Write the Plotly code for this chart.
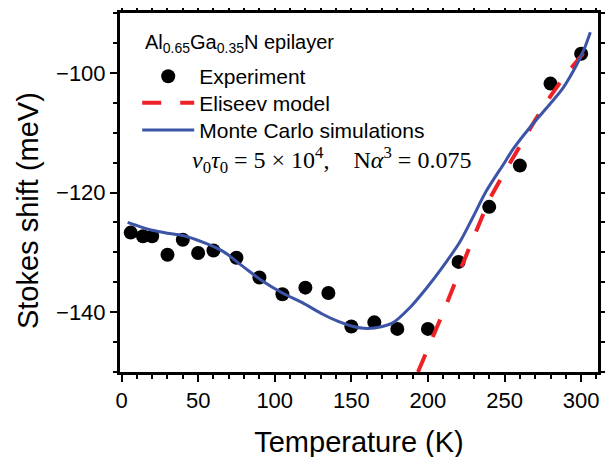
import plotly.graph_objects as go

# Experimental Stokes shift (meV) vs temperature (K)
temp_exp = [6, 14, 20, 30, 40, 50, 60, 75, 90, 105, 120, 135, 150, 165, 180, 200, 220, 240, 260, 280, 300]
shift_exp = [-126.7, -127.3, -127.3, -130.4, -127.9, -130.1, -129.7, -130.9, -134.2, -137.0, -135.9, -136.8,
             -142.4, -141.7, -142.8, -142.8, -131.6, -122.4, -115.5, -101.8, -96.8]

# Eliseev model
temp_eli = [193.5, 200, 210, 220, 230, 240, 250, 260, 270, 280, 290, 300, 306]
shift_eli = [-150.0, -146.2, -140.0, -133.6, -127.3, -121.2, -116.6, -112.1, -107.9, -103.9, -100.3, -97.2, -95.0]

# Monte Carlo simulations
temp_mc = [4, 12, 20, 30, 40, 53, 66, 79, 92, 105, 118, 131, 141, 150, 158, 166, 177, 188, 199, 210, 221,
           229, 238, 249, 256, 266, 277, 288, 297, 302, 306]
shift_mc = [-125.0, -125.7, -126.3, -126.8, -127.2, -128.3, -129.8, -132.3, -134.8, -136.8, -138.4, -140.3,
            -141.5, -142.3, -142.7, -142.6, -141.8, -139.3, -136.0, -132.3, -128.2, -124.3, -119.8, -115.4,
            -112.6, -109.3, -106.0, -102.6, -98.7, -96.0, -93.2]

x_range = [-1, 311]
y_range = [-150, -90]
x_ticks = [0, 50, 100, 150, 200, 250, 300]
y_ticks = [-140, -120, -100]
y_ticktext = ["\u2212140", "\u2212120", "\u2212100"]

FONT = "Liberation Sans, Arial, sans-serif"
SERIF = "Liberation Serif, Times New Roman, serif"

fig = go.Figure()
fig.add_trace(go.Scatter(x=temp_exp, y=shift_exp, mode="markers", name="Experiment", legend="legend",
                         marker=dict(color="black", size=14)))
fig.add_trace(go.Scatter(x=temp_eli, y=shift_eli, mode="lines", name="Eliseev model", legend="legend2",
                         line=dict(color="#ee2226", width=4, dash="19px,19px")))
fig.add_trace(go.Scatter(x=temp_mc, y=shift_mc, mode="lines", name="Monte Carlo simulations", legend="legend3",
                         line=dict(color="#3b54a6", width=3, shape="spline", smoothing=0.8)))

main_axis = dict(showline=True, linecolor="black", linewidth=3, mirror="allticks",
                 ticks="outside", ticklen=7, tickwidth=2, tickcolor="black",
                 showgrid=False, zeroline=False, automargin=False,
                 tickfont=dict(family=FONT, size=22, color="black"))
x_minor = dict(ticks="outside", ticklen=4, tickwidth=2, tickcolor="black", dtick=10, tick0=0, showgrid=False)
y_minor = dict(ticks="outside", ticklen=4, tickwidth=2, tickcolor="black", dtick=5, tick0=-100, showgrid=False)

fig.update_layout(
    xaxis=dict(main_axis, range=x_range, tickmode="array", tickvals=x_ticks, minor=x_minor,
               title=dict(text="Temperature (K)", font=dict(family=FONT, size=29, color="black"), standoff=20)),
    yaxis=dict(main_axis, range=y_range, tickmode="array", tickvals=y_ticks, ticktext=y_ticktext, minor=y_minor),
)

fig.add_annotation(xref="paper", yref="paper", x=-0.1925, y=0.451, xanchor="center", yanchor="middle",
                   text="Stokes shift (meV)", textangle=-90,
                   showarrow=False, font=dict(family=FONT, size=29, color="black"))
fig.add_annotation(xref="paper", yref="paper", x=0.049, y=0.916, xanchor="left", yanchor="middle",
                   text="Al<sub>0.65</sub>Ga<sub>0.35</sub>N epilayer",
                   showarrow=False, font=dict(family=FONT, size=20, color="black"))
fig.add_annotation(xref="paper", yref="paper", x=0.146, y=0.591, xanchor="left", yanchor="middle",
                   text="<i>\u03bd</i><sub>0</sub><i>\u03c4</i><sub>0</sub> = 5 \u00d7 10<sup>4</sup>,\u2003N<i>\u03b1</i><sup>3</sup> = 0.075",
                   showarrow=False, font=dict(family=SERIF, size=24, color="black"))

leg_common = dict(x=0.036, xanchor="left", yanchor="middle", bgcolor="rgba(0,0,0,0)",
                  font=dict(family=FONT, size=21, color="black"), itemwidth=52)

fig.update_layout(
    width=613, height=457,
    margin=dict(l=112, r=23, t=5, b=93, autoexpand=False),
    paper_bgcolor="white", plot_bgcolor="white",
    font=dict(family=FONT, color="black"),
    showlegend=True,
    legend=dict(leg_common, y=0.823),
    legend2=dict(leg_common, y=0.749),
    legend3=dict(leg_common, y=0.673),
)

fig.write_html("out.html")
